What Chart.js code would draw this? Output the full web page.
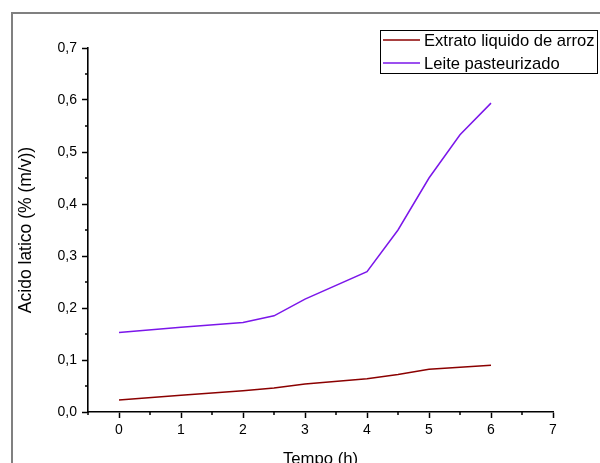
<!DOCTYPE html>
<html>
<head>
<meta charset="utf-8">
<script src="https://cdn.jsdelivr.net/npm/chart.js@4.4.1/dist/chart.umd.min.js"></script>
<style>
  html, body { margin: 0; padding: 0; background: #fff; }
  #wrap { width: 600px; height: 463px; position: relative; }
</style>
</head>
<body>
<div id="wrap"><canvas id="acidChart"></canvas></div>
<script>
const times = [0, 1, 2, 2.5, 3, 4, 4.5, 5, 5.5, 6];
const extrato = [0.023, 0.032, 0.041, 0.046, 0.054, 0.064, 0.072, 0.082, 0.086, 0.090];
const leite = [0.153, 0.163, 0.172, 0.185, 0.217, 0.270, 0.350, 0.450, 0.533, 0.594];
const seriesNames = ['Extrato liquido de arroz', 'Leite pasteurizado'];

const FONT = 'Arial, "Liberation Sans", sans-serif';

const isMajorX = v => Math.abs(v - Math.round(v)) < 1e-6;
const isMajorY = v => Math.abs(v * 10 - Math.round(v * 10)) < 1e-6;

// moldura cinza + ticks menores + legenda com caixa
const decor = {
    id: 'decor',
    beforeDraw(chart) {
        const c = chart.ctx;
        c.save();
        c.fillStyle = '#fff';
        c.fillRect(0, 0, chart.width, chart.height);
        c.strokeStyle = '#808080';
        c.lineWidth = 2;
        c.strokeRect(12, 13, 700, 600);
        c.restore();
    },
    afterDraw(chart) {
        const c = chart.ctx;
        const xs = chart.scales.x, ys = chart.scales.y;
        c.save();
        c.strokeStyle = '#000';
        c.lineWidth = 1.5;
        c.beginPath();
        xs.ticks.forEach(t => {
            if (isMajorX(t.value)) return;
            const px = Math.round(xs.getPixelForValue(t.value));
            c.moveTo(px, xs.top);
            c.lineTo(px, xs.top + 3);
        });
        ys.ticks.forEach(t => {
            if (isMajorY(t.value)) return;
            const py = Math.round(ys.getPixelForValue(t.value));
            c.moveTo(ys.right - 3, py);
            c.lineTo(ys.right, py);
        });
        c.stroke();

        // legenda
        c.lineWidth = 1;
        c.strokeRect(380.5, 30.5, 217, 43);
        c.font = '16.6px ' + FONT;
        c.textBaseline = 'middle';
        c.fillStyle = '#000';
        const rows = [40, 63];
        chart.data.datasets.forEach((ds, i) => {
            c.strokeStyle = ds.borderColor;
            c.lineWidth = 1.5;
            c.beginPath();
            c.moveTo(383, rows[i]);
            c.lineTo(420, rows[i]);
            c.stroke();
            c.fillText(ds.label, 424, rows[i] + 1);
        });
        c.restore();
    }
};

new Chart(document.getElementById('acidChart'), {
    type: 'line',
    data: {
        datasets: [
            {
                label: seriesNames[0],
                data: times.map((t, i) => ({ x: t, y: extrato[i] })),
                borderColor: '#8B0000',
                borderWidth: 1.5,
                pointRadius: 0,
                tension: 0,
                fill: false
            },
            {
                label: seriesNames[1],
                data: times.map((t, i) => ({ x: t, y: leite[i] })),
                borderColor: '#7B16EA',
                borderWidth: 1.5,
                pointRadius: 0,
                tension: 0,
                fill: false
            }
        ]
    },
    options: {
        responsive: true,
        maintainAspectRatio: false,
        animation: false,
        layout: { padding: { left: 0, top: 48, right: 47, bottom: 0 } },
        plugins: {
            legend: { display: false },
            tooltip: { enabled: false }
        },
        scales: {
            x: {
                type: 'linear',
                min: -0.5,
                max: 7,
                afterFit: s => { s.height = 51; },
                ticks: {
                    stepSize: 0.5,
                    autoSkip: false,
                    maxRotation: 0,
                    maxTicksLimit: 100,
                    padding: 4,
                    color: '#000',
                    font: { family: FONT, size: 14 },
                    callback: v => (isMajorX(v) && v >= 0) ? String(Math.round(v)) : ''
                },
                grid: {
                    drawOnChartArea: false,
                    tickLength: 6,
                    tickWidth: 1.5,
                    tickColor: ctx => (ctx.tick && isMajorX(ctx.tick.value)) ? '#000' : 'rgba(0,0,0,0)'
                },
                border: { color: '#000', width: 1.6 },
                title: {
                    display: true,
                    text: 'Tempo (h)',
                    color: '#000',
                    font: { family: FONT, size: 16.7 },
                    padding: { top: 0, bottom: -6 }
                }
            },
            y: {
                min: 0,
                max: 0.7,
                afterFit: s => { s.width = 88; },
                ticks: {
                    stepSize: 0.05,
                    autoSkip: false,
                    maxTicksLimit: 100,
                    padding: 5,
                    color: '#000',
                    font: { family: FONT, size: 14 },
                    callback: v => isMajorY(v) ? (Math.round(v * 10) / 10).toFixed(1).replace('.', ',') : ''
                },
                grid: {
                    drawOnChartArea: false,
                    tickLength: 6,
                    tickWidth: 1.5,
                    tickColor: ctx => (ctx.tick && isMajorY(ctx.tick.value)) ? '#000' : 'rgba(0,0,0,0)'
                },
                border: { color: '#000', width: 1.6 },
                title: {
                    display: true,
                    text: 'Acido latico (% (m/v))',
                    color: '#000',
                    font: { family: FONT, size: 17.5 },
                    padding: { top: 16, bottom: 0 }
                }
            }
        }
    },
    plugins: [decor]
});
</script>
</body>
</html>
